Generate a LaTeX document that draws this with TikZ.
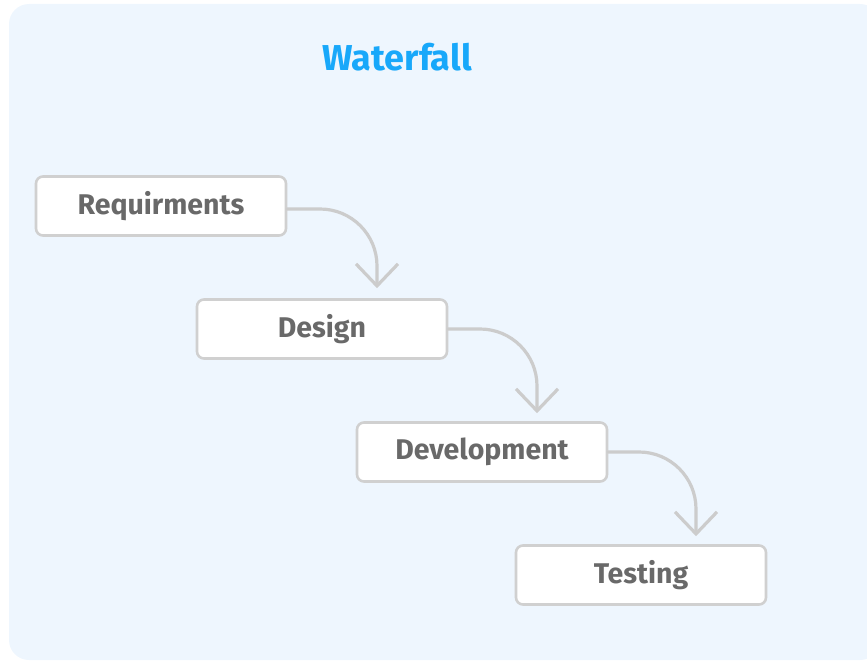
\documentclass[tikz,border=0pt]{standalone}
\usepackage{fontspec}
\setmainfont{Fira Sans}
\usetikzlibrary{arrows.meta}
\definecolor{panelbg}{RGB}{238,246,254}
\definecolor{boxline}{RGB}{208,208,208}
\definecolor{arrowgray}{RGB}{204,204,204}
\definecolor{labelgray}{RGB}{105,105,105}
\definecolor{titleblue}{RGB}{24,168,250}
\tikzset{
  stagebox/.style={draw=boxline, line width=2.6pt, fill=white, rounded corners=7pt,
    minimum width=250pt, minimum height=59pt, inner sep=0pt,
    font=\fontsize{28.5}{31}\selectfont\bfseries, text=labelgray},
  flowarrow/.style={draw=arrowgray, line width=3.2pt, line cap=round, rounded corners=57pt,
    -{Straight Barb[length=22pt,width=42pt,line width=3.2pt]}},
}
\begin{document}
\begin{tikzpicture}[x=1pt,y=-1pt]
\useasboundingbox (0,0) rectangle (867,661);
\begin{scope}
\clip (0,0) rectangle (867,661);
\fill[panelbg, rounded corners=20pt] (9,4) rectangle (880,660);
\end{scope}
\node[font=\fontsize{36}{40}\selectfont\bfseries, text=titleblue] (title) at (397,57) {Waterfall};
\node[stagebox] (req) at (161,206) {\raisebox{-1pt}{Requirments}};
\node[stagebox] (des) at (322,329) {\raisebox{-1pt}{Design}};
\node[stagebox] (dev) at (482,452) {\raisebox{-1pt}{Development}};
\node[stagebox] (tst) at (641,575) {\raisebox{-1pt}{Testing}};
\coordinate (e1) at ([xshift=55pt,yshift=10pt]des.north);
\coordinate (e2) at ([xshift=55pt,yshift=8pt]dev.north);
\coordinate (e3) at ([xshift=55pt,yshift=8pt]tst.north);
\draw[flowarrow] ([yshift=-3pt]req.east) -| (e1);
\draw[flowarrow] (des.east) -| (e2);
\draw[flowarrow] (dev.east) -| (e3);
\end{tikzpicture}
\end{document}
